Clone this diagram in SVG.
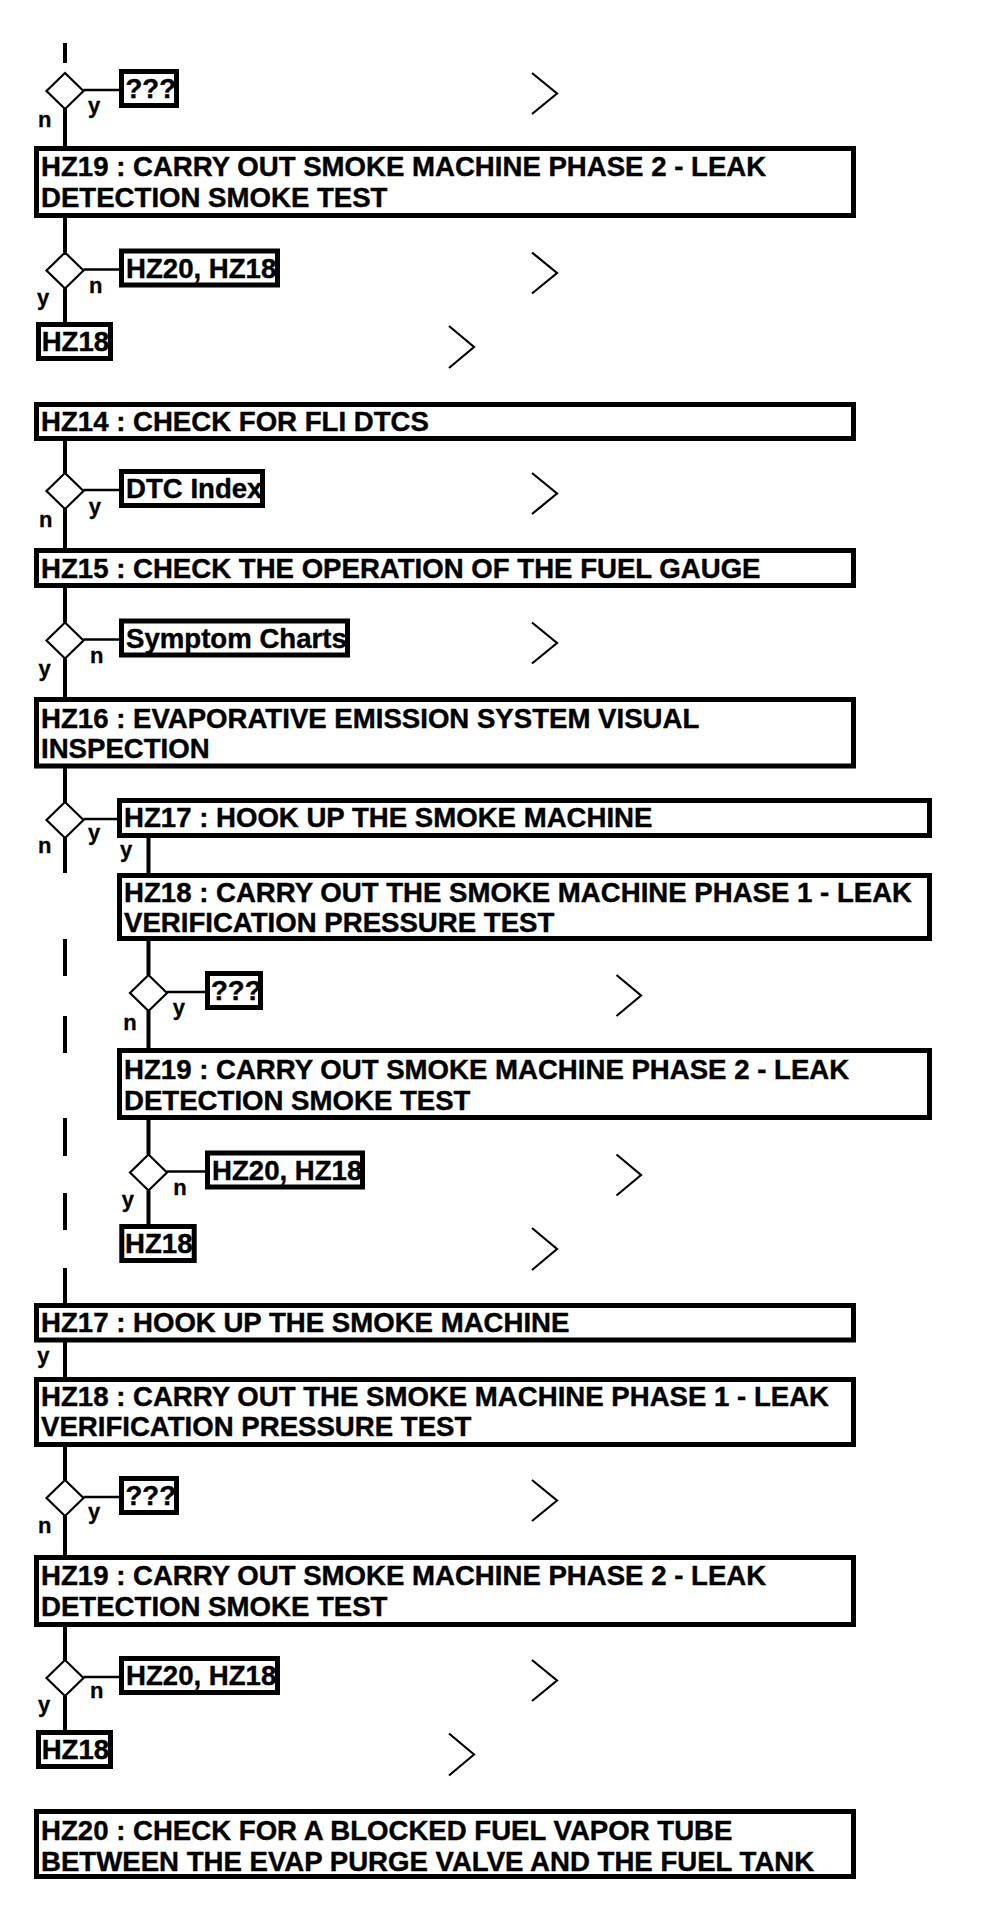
<svg xmlns="http://www.w3.org/2000/svg" width="1008" height="1918" viewBox="0 0 1008 1918">
<style>
.bg{fill:#fff}
.box{fill:#fff;stroke:#000;stroke-width:5}
.dia{fill:#fff;stroke:#000;stroke-width:2.2}
.v{stroke:#000;stroke-width:4;fill:none}
.h{stroke:#000;stroke-width:2.3;fill:none}
.chev{fill:none;stroke:#000;stroke-width:2.2}
.t{font-family:"Liberation Sans",Arial,sans-serif;font-weight:bold;font-size:27.6px;fill:#000;stroke:#000;stroke-width:0.4}
.l{font-family:"Liberation Sans",Arial,sans-serif;font-weight:bold;font-size:22px;fill:#000;stroke:#000;stroke-width:0.3}
</style>
<rect class="bg" x="0" y="0" width="1008" height="1918"/>
<g id="connectors">
<line class="v" x1="65" y1="43" x2="65" y2="63"/>
<line class="v" x1="65" y1="109" x2="65" y2="146"/>
<line class="v" x1="65" y1="218" x2="65" y2="252.5"/>
<line class="v" x1="65" y1="288.5" x2="65" y2="322"/>
<line class="v" x1="65" y1="441" x2="65" y2="473"/>
<line class="v" x1="65" y1="509" x2="65" y2="548"/>
<line class="v" x1="65" y1="588" x2="65" y2="622.5"/>
<line class="v" x1="65" y1="658.5" x2="65" y2="697"/>
<line class="v" x1="65" y1="768" x2="65" y2="802"/>
<line class="v" x1="65" y1="838" x2="65" y2="873"/>
<line class="v" x1="65" y1="939" x2="65" y2="976"/>
<line class="v" x1="65" y1="1016" x2="65" y2="1053"/>
<line class="v" x1="65" y1="1118" x2="65" y2="1156"/>
<line class="v" x1="65" y1="1193" x2="65" y2="1230"/>
<line class="v" x1="65" y1="1268" x2="65" y2="1303"/>
<line class="v" x1="148.5" y1="838" x2="148.5" y2="873"/>
<line class="v" x1="148.5" y1="941" x2="148.5" y2="975"/>
<line class="v" x1="148.5" y1="1011" x2="148.5" y2="1048"/>
<line class="v" x1="148.5" y1="1120" x2="148.5" y2="1154.5"/>
<line class="v" x1="148.5" y1="1190.5" x2="148.5" y2="1224"/>
<line class="v" x1="65" y1="1342" x2="65" y2="1377"/>
<line class="v" x1="65" y1="1447" x2="65" y2="1480"/>
<line class="v" x1="65" y1="1516" x2="65" y2="1555"/>
<line class="v" x1="65" y1="1627" x2="65" y2="1660"/>
<line class="v" x1="65" y1="1696" x2="65" y2="1730"/>
<line class="h" x1="83.5" y1="90" x2="119" y2="90"/>
<line class="h" x1="83.5" y1="269.5" x2="119" y2="269.5"/>
<line class="h" x1="83.5" y1="490" x2="119" y2="490"/>
<line class="h" x1="83.5" y1="639.5" x2="119" y2="639.5"/>
<line class="h" x1="83.5" y1="819" x2="117" y2="819"/>
<line class="h" x1="167" y1="992" x2="205" y2="992"/>
<line class="h" x1="167" y1="1171.5" x2="205" y2="1171.5"/>
<line class="h" x1="83.5" y1="1497" x2="119" y2="1497"/>
<line class="h" x1="83.5" y1="1677" x2="119" y2="1677"/>
</g>
<g id="chevrons">
<polyline class="chev" points="532,73 557,93.5 532,114"/>
<polyline class="chev" points="532,252.5 557,273 532,293.5"/>
<polyline class="chev" points="449,326 474,347 449,368"/>
<polyline class="chev" points="532,473 557,493.5 532,514"/>
<polyline class="chev" points="532,622.5 557,643 532,663.5"/>
<polyline class="chev" points="616.5,975 641,995.5 616.5,1016"/>
<polyline class="chev" points="616.5,1154.5 641,1175 616.5,1195.5"/>
<polyline class="chev" points="532,1228 557,1249 532,1270"/>
<polyline class="chev" points="532,1480 557,1500.5 532,1521"/>
<polyline class="chev" points="532,1660 557,1680.5 532,1701"/>
<polyline class="chev" points="449,1733.5 474,1754.5 449,1775.5"/>
</g>
<g id="d1"><polygon class="dia" points="65,73 83.5,91 65,109 46.5,91"/><text class="l" x="88" y="112.6">y</text><text class="l" x="38" y="126.7">n</text></g>
<g id="r1"><rect class="box" x="121.5" y="71.5" width="55" height="34"/><text class="t" x="125.5" y="98">???</text></g>
<g id="hz19a"><rect class="box" x="36.5" y="148.5" width="817" height="67"/><text class="t" x="41" y="176">HZ19 : CARRY OUT SMOKE MACHINE PHASE 2 - LEAK</text><text class="t" x="41" y="207">DETECTION SMOKE TEST</text></g>
<g id="d2"><polygon class="dia" points="65,252.5 83.5,270.5 65,288.5 46.5,270.5"/><text class="l" x="89" y="292.7">n</text><text class="l" x="37" y="305">y</text></g>
<g id="r2"><rect class="box" x="121.5" y="251" width="156" height="34"/><text class="t" x="126" y="277.5">HZ20, HZ18</text></g>
<g id="hz18s1"><rect class="box" x="38.5" y="324.5" width="72" height="34"/><text class="t" x="41.7" y="351">HZ18</text></g>
<g id="hz14"><rect class="box" x="36.5" y="404.5" width="817" height="34"/><text class="t" x="41" y="431">HZ14 : CHECK FOR FLI DTCS</text></g>
<g id="d3"><polygon class="dia" points="65,473 83.5,491 65,509 46.5,491"/><text class="l" x="88.7" y="514">y</text><text class="l" x="39" y="527">n</text></g>
<g id="r3"><rect class="box" x="121.5" y="471.5" width="141" height="34"/><text class="t" x="126" y="498">DTC Index</text></g>
<g id="hz15"><rect class="box" x="36.5" y="550.5" width="817" height="35"/><text class="t" x="41" y="577.5">HZ15 : CHECK THE OPERATION OF THE FUEL GAUGE</text></g>
<g id="d4"><polygon class="dia" points="65,622.5 83.5,640.5 65,658.5 46.5,640.5"/><text class="l" x="90" y="663">n</text><text class="l" x="38.6" y="675.6">y</text></g>
<g id="r4"><rect class="box" x="121.5" y="621" width="226" height="34"/><text class="t" x="126" y="647.5">Symptom Charts</text></g>
<g id="hz16"><rect class="box" x="36.5" y="699.5" width="817" height="66.5"/><text class="t" x="41" y="727.5">HZ16 : EVAPORATIVE EMISSION SYSTEM VISUAL</text><text class="t" x="41" y="757.5">INSPECTION</text></g>
<g id="d5"><polygon class="dia" points="65,802 83.5,820 65,838 46.5,820"/><text class="l" x="88" y="840">y</text><text class="l" x="38" y="852.7">n</text></g>
<g id="hz17b"><rect class="box" x="119.5" y="800.5" width="810" height="35"/><text class="t" x="124" y="827">HZ17 : HOOK UP THE SMOKE MACHINE</text><text class="l" x="120" y="857.3">y</text></g>
<g id="hz18b"><rect class="box" x="119.5" y="875.5" width="810" height="63"/><text class="t" x="124" y="901.5">HZ18 : CARRY OUT THE SMOKE MACHINE PHASE 1 - LEAK</text><text class="t" x="124" y="932">VERIFICATION PRESSURE TEST</text></g>
<g id="d6"><polygon class="dia" points="148.5,975 167,993 148.5,1011 130,993"/><text class="l" x="172.7" y="1015">y</text><text class="l" x="123.3" y="1030">n</text></g>
<g id="r6"><rect class="box" x="207.5" y="973.5" width="53" height="34"/><text class="t" x="211" y="1000">???</text></g>
<g id="hz19b"><rect class="box" x="119.5" y="1050.5" width="810" height="67"/><text class="t" x="124" y="1079">HZ19 : CARRY OUT SMOKE MACHINE PHASE 2 - LEAK</text><text class="t" x="124" y="1109.5">DETECTION SMOKE TEST</text></g>
<g id="d7"><polygon class="dia" points="148.5,1154.5 167,1172.5 148.5,1190.5 130,1172.5"/><text class="l" x="173.3" y="1195">n</text><text class="l" x="121.7" y="1207.3">y</text></g>
<g id="r7"><rect class="box" x="207.5" y="1153" width="155" height="34"/><text class="t" x="212" y="1179.5">HZ20, HZ18</text></g>
<g id="hz18s2"><rect class="box" x="121.8" y="1226.5" width="72.4" height="34"/><text class="t" x="125" y="1253">HZ18</text></g>
<g id="hz17c"><rect class="box" x="36.5" y="1305.5" width="817" height="34.5"/><text class="t" x="41" y="1332">HZ17 : HOOK UP THE SMOKE MACHINE</text><text class="l" x="37.3" y="1363">y</text></g>
<g id="hz18c"><rect class="box" x="36.5" y="1379.5" width="817" height="65"/><text class="t" x="41" y="1405.5">HZ18 : CARRY OUT THE SMOKE MACHINE PHASE 1 - LEAK</text><text class="t" x="41" y="1436">VERIFICATION PRESSURE TEST</text></g>
<g id="d8"><polygon class="dia" points="65,1480 83.5,1498 65,1516 46.5,1498"/><text class="l" x="88" y="1519">y</text><text class="l" x="38" y="1532.7">n</text></g>
<g id="r8"><rect class="box" x="121.5" y="1478.5" width="55" height="34"/><text class="t" x="125.5" y="1505">???</text></g>
<g id="hz19c"><rect class="box" x="36.5" y="1557.5" width="817" height="67"/><text class="t" x="41" y="1584.5">HZ19 : CARRY OUT SMOKE MACHINE PHASE 2 - LEAK</text><text class="t" x="41" y="1616">DETECTION SMOKE TEST</text></g>
<g id="d9"><polygon class="dia" points="65,1660 83.5,1678 65,1696 46.5,1678"/><text class="l" x="90" y="1698.3">n</text><text class="l" x="38" y="1711.6">y</text></g>
<g id="r9"><rect class="box" x="121.5" y="1658.5" width="156" height="34"/><text class="t" x="126" y="1685">HZ20, HZ18</text></g>
<g id="hz18s3"><rect class="box" x="38.5" y="1732.5" width="72" height="34"/><text class="t" x="41.7" y="1759">HZ18</text></g>
<g id="hz20"><rect class="box" x="36.5" y="1811.5" width="817" height="65"/><text class="t" x="41" y="1840">HZ20 : CHECK FOR A BLOCKED FUEL VAPOR TUBE</text><text class="t" x="41" y="1870.5">BETWEEN THE EVAP PURGE VALVE AND THE FUEL TANK</text></g>
</svg>
